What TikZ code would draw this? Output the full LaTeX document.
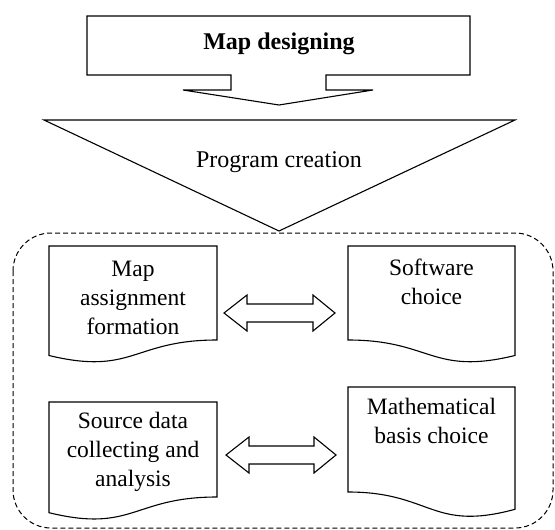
\documentclass[tikz,border=0pt]{standalone}
\usepackage{fontspec}
\setmainfont{Liberation Serif}
\usetikzlibrary{calc}
\newcommand\dblarrow[2]{%
  \draw[outline] (#1) -- ($(#1)+(23,-18)$) -- ($(#1)+(23,-9)$) -- ($(#2)+(-22,-9)$) -- ($(#2)+(-22,-18)$) -- (#2)
    -- ($(#2)+(-22,18)$) -- ($(#2)+(-22,9)$) -- ($(#1)+(23,9)$) -- ($(#1)+(23,18)$) -- cycle;}
\begin{document}
\begin{tikzpicture}[x=1pt,y=-1pt,
  outline/.style={draw=black, line width=1.1pt, line join=miter},
  frame/.style={draw=black, line width=1pt, dash pattern=on 5pt off 3pt, rounded corners=38pt},
  doctext/.style={align=center, font=\fontsize{23.5}{29}\selectfont, inner sep=0pt},
  headtext/.style={font=\fontsize{24}{28}\selectfont, inner sep=0pt},
]
\useasboundingbox (0,0) rectangle (555,530);

% top callout
\draw[outline] (87,16) -- (470,16) -- (470,75) -- (326,75) -- (326,90) -- (373,90) -- (279,105)
  -- (183,90) -- (231,90) -- (231,75) -- (87,75) -- cycle;
\node[headtext] (design) at (279,44) {\bfseries Map designing};

% triangle
\draw[outline] (44,120) -- (515,120) -- (279,231) -- cycle;
\node[headtext] (program) at (279,162) {Program creation};

% dashed frame
\draw[frame] (13,233) rectangle (553,528);

% documents
\draw[outline] (49,246) -- (217,246) -- (217,340) .. controls (133,340) and (133,375.8) .. (49,355.5) -- cycle;
\draw[outline] (348,246) -- (515,246) -- (515,355.5) .. controls (431.5,375.8) and (431.5,340) .. (348,340) -- cycle;
\draw[outline] (49,402) -- (217,402) -- (217,497) .. controls (133,497) and (133,533.2) .. (49,512.7) -- cycle;
\draw[outline] (348,387) -- (515,387) -- (515,509.3) .. controls (431.5,532) and (431.5,492) .. (348,492) -- cycle;

\node[doctext] (assign) at (133,298) {Map\\assignment\\formation};
\node[doctext] (software) at (431.5,282) {Software\\choice};
\node[doctext] (source) at (133,452) {Source data\\collecting and\\analysis};
\node[doctext] (math) at (431.5,421) {Mathematical\\basis choice};

% double arrows
\coordinate (a1l) at (224,313);
\coordinate (a1r) at (335,313);
\coordinate (a2l) at (226,455);
\coordinate (a2r) at (336,455);
\dblarrow{a1l}{a1r}
\dblarrow{a2l}{a2r}
\end{tikzpicture}
\end{document}
